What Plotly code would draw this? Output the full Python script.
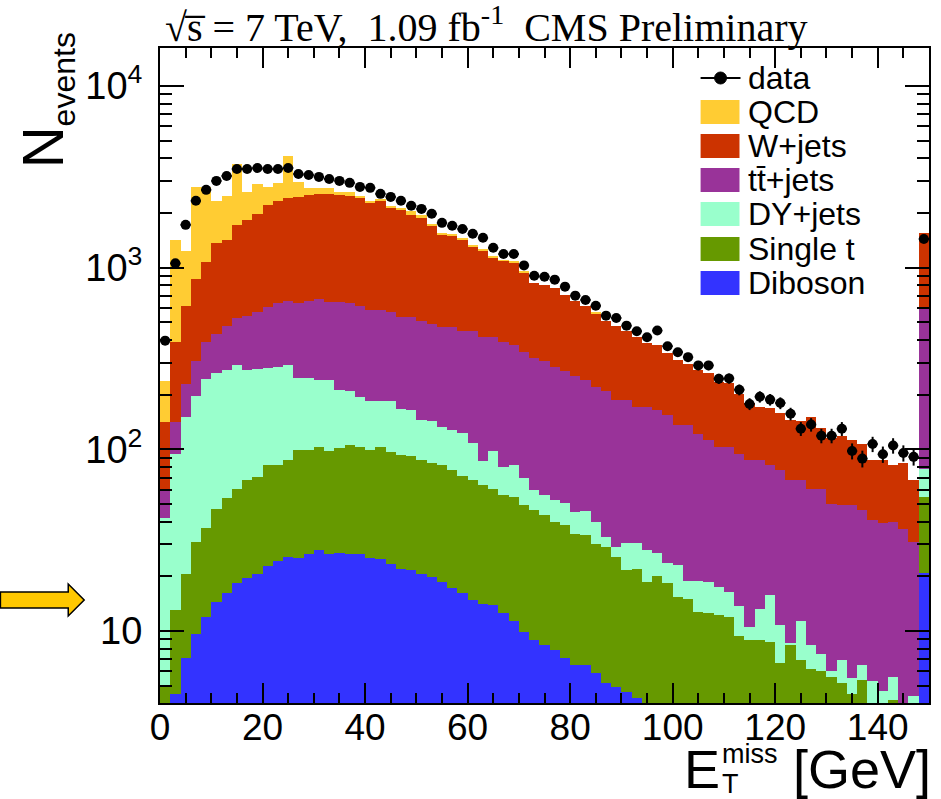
import numpy as np
import plotly.graph_objects as go

# ---------------- data (2 GeV bins, 0-150 GeV; last bin includes overflow) ----------------
bin_edges_gev = list(range(0, 152, 2))
bin_centers = [0.5 * (a + b) for a, b in zip(bin_edges_gev[:-1], bin_edges_gev[1:])]

data_counts = [397, 1057, 1722, 2335, 2683, 3006, 3200, 3497, 3497, 3540,
               3497, 3497, 3540, 3282, 3238, 3162, 3080, 3006, 2932, 2786,
               2753, 2551, 2455, 2335, 2192, 2108, 1982, 1766, 1702, 1635,
               1538, 1462, 1288, 1190, 1190, 1030, 904, 893, 860, 787,
               702, 665, 618, 545, 529, 480, 447, 414, 451, 370,
               343, 322, 290, 290, 245, 246, 213, 178, 195, 188,
               180, 157, 130, 137, 119, 119, 130, 98, 89, 107,
               94, 105, 95.5, 91, 1440]

diboson = [2, 4.5, 7.1, 9.7, 12, 14.4, 16.2, 18.4, 19.7, 20.7,
           22.7, 24.3, 25.6, 25.4, 26.5, 27.9, 26.7, 26.9, 26.7, 26.7,
           25.1, 24.8, 23.5, 22.1, 21.6, 20.6, 19.9, 18.7, 17.2, 16.2,
           14.8, 14.1, 13.9, 12.5, 11.3, 9.9, 8.9, 8.4, 7.9, 7.1,
           6.5, 6.5, 5.9, 5.2, 4.9, 4.6, 4.3, 3, 3, 3,
           3, 3, 3, 3, 3, 3, 3, 3, 3, 3,
           3, 3, 3, 3, 3, 3, 3, 3, 3, 2.5,
           2.5, 2.5, 2.5, 2.5, 20.9]

single_t = [2.9, 8.5, 13.6, 21.3, 25, 32.4, 37.8, 42.4, 47.9, 49.8,
            58.9, 57.3, 62.1, 73.5, 73, 75.1, 71.3, 74.7, 79.3, 76.3,
            73.8, 78.2, 73.1, 70.6, 70, 66.5, 64.3, 62.9, 59.5, 54.9,
            52.8, 49.3, 46.9, 43.8, 43.4, 39.3, 37.4, 35, 32, 31.1,
            27.9, 27.2, 24.4, 23.8, 20.7, 17, 17.8, 15.7, 17, 15.4,
            12.4, 12.1, 9.8, 9.5, 9.2, 9, 6.4, 5.9, 5.9, 5.7,
            3.7, 5.4, 3.9, 3.2, 3, 2.6, 2.2, 1.5, 2.4, 0.5,
            0.5, 1.7, 0.5, 0.5, 33.6]

dy_jets = [36.9, 81.6, 129.3, 165, 206, 217, 220, 229, 206, 207,
           198, 204, 202, 147, 146.5, 138.6, 143.6, 111.4, 105, 91,
           85.1, 81, 87.4, 74.8, 73.4, 57.9, 59.8, 51.4, 51.3, 51.9,
           40.4, 22.9, 37.2, 23.7, 26.9, 20.8, 13.7, 12.4, 12.6, 12.2,
           10.9, 11.9, 9.6, 4, 3.4, 8.9, 8.4, 9.4, 6.9, 5.3,
           7.7, 3.8, 6.1, 6.2, 5.2, 4.4, 4.3, 1.7, 4.4, 7.2,
           4.1, 0.15, 4.5, 2.2, 1.5, 0.4, 1.7, 1.0, 1.1, 2.3,
           1.7, 1.4, 0.5, 1.4, 23.1]

ttbar_jets = [17.8, 46.4, 80, 109, 146, 168, 206, 237, 271, 296,
              325, 351, 369, 391, 413, 431, 403, 432, 426, 424,
              401, 401, 384, 365.5, 368, 367, 347, 337, 342, 328,
              343, 327.7, 316, 309, 296.4, 273, 259, 252, 230.5, 218.6,
              209.7, 194.4, 182, 178, 157, 155.5, 140.5, 142.9, 137.1, 130.3,
              112.4, 116.6, 103.1, 93.3, 85.6, 86.6, 81, 76.4, 73.7, 65.7,
              65.9, 59, 56.2, 52.4, 53.3, 43.9, 42.3, 43.7, 39.8, 35.8,
              34.7, 34.3, 33.2, 26.6, 518.4]

w_jets = [81.4, 248, 388, 562, 680, 929, 939, 1195, 1283, 1415,
          1613, 1698, 1755, 1818, 1859, 1886, 1914, 1873, 1851, 1796,
          1701, 1750, 1587, 1567, 1422, 1377, 1211, 1061, 1030, 988,
          863, 838, 726, 703, 691, 597, 509, 499, 494, 442,
          404, 378, 337, 301, 294, 265, 247, 216, 214, 187,
          176.5, 161.5, 150, 150, 131, 128, 108.3, 92, 85, 86.4,
          81.3, 78.4, 75.4, 89.2, 71.2, 66.1, 69.8, 62.8, 60.7, 46.9,
          48.6, 42.1, 47.3, 37, 967]

qcd = [98, 1030, 612, 1919, 1717, 967, 1069, 2020, 798, 896,
       568, 597, 1707, 516, 244, 203, 203, 108, 138, 74,
       49, 45, 37, 28, 96, 66, 18, 14, 31, 17,
       23, 16, 24, 8, 11, 15, 0, 0, 0, 0,
       0, 0, 6, 0, 0, 0, 0, 0, 0, 0,
       0, 0, 0, 0, 0, 0, 0, 0, 0, 0,
       0, 0, 0, 0, 0, 0, 0, 0, 0, 0,
       0, 0, 0, 0, 0]

process_names = ["Diboson", "Single t", "DY+jets", "ttbar+jets", "W+jets", "QCD"]
process_values = [diboson, single_t, dy_jets, ttbar_jets, w_jets, qcd]
process_colors = ["#3333FF", "#669900", "#99FFCC", "#993399", "#CC3300", "#FFCC33"]

legend_labels = ["data", "QCD", "W+jets", "tt&#772;+jets",
                 "DY+jets", "Single t", "Diboson"]
legend_colors = [None, "#FFCC33", "#CC3300", "#993399", "#99FFCC", "#669900", "#3333FF"]

x_ticks = [0, 20, 40, 60, 80, 100, 120, 140]
y_ticks = [10, 100, 1000, 10000]
y_ticktext = ["10", "10<sup>2</sup>", "10<sup>3</sup>", "10<sup>4</sup>"]

# ---------------- layout geometry (pixels) ----------------
W, H = 941, 799
L, R, T, B = 160, 10, 48, 96
PW, PH = W - L - R, H - T - B


def px(xp):
    return (xp - L) / PW


def py(yp):
    return (H - B - yp) / PH


SANS = "Liberation Sans, Arial, sans-serif"
SERIF = "Liberation Serif, Times New Roman, serif"

fig = go.Figure()

for name, vals, col in zip(process_names, process_values, process_colors):
    fig.add_trace(go.Bar(
        x=bin_centers, y=vals, width=2.0, name=name,
        marker=dict(color=col, line=dict(width=0)),
        showlegend=False,
    ))

fig.add_trace(go.Scatter(
    x=bin_centers, y=data_counts, mode="markers", name="data",
    marker=dict(color="black", size=10, symbol="circle"),
    error_y=dict(type="data", array=list(np.sqrt(np.array(data_counts, dtype=float))),
                 color="black", thickness=2, width=0),
    error_x=dict(type="constant", value=1.0, color="black", thickness=2, width=0),
    showlegend=False,
))

# minor tick values for log axis
minor_y = [m * 10 ** e for e in range(0, 5) for m in range(2, 10) if 4.0 < m * 10 ** e < 16000]

fig.update_layout(
    width=W, height=H,
    margin=dict(l=L, r=R, t=T, b=B, pad=0),
    barmode="stack", bargap=0,
    paper_bgcolor="white", plot_bgcolor="white",
    showlegend=False,
    font=dict(family=SANS, color="black"),
    xaxis=dict(
        range=[0, 150], showgrid=False, zeroline=False,
        showline=True, linecolor="black", linewidth=2, mirror="allticks",
        ticks="inside", ticklen=20, tickwidth=1.5, tickcolor="black",
        tickvals=x_ticks, ticktext=[str(v) for v in x_ticks],
        tickfont=dict(family=SANS, size=37, color="black"),
        ticklabelstandoff=-9,
        minor=dict(ticks="inside", ticklen=10, tickwidth=1.5, tickcolor="black",
                   tickmode="linear", tick0=0, dtick=5, showgrid=False),
    ),
    yaxis=dict(
        type="log", range=[np.log10(4.02), np.log10(16200)],
        showgrid=False, zeroline=False,
        showline=True, linecolor="black", linewidth=2, mirror="allticks",
        ticks="inside", ticklen=24, tickwidth=1.5, tickcolor="black",
        tickvals=y_ticks, ticktext=y_ticktext,
        tickfont=dict(family=SANS, size=38, color="black"),
        ticklabelstandoff=8,
        minor=dict(ticks="inside", ticklen=12, tickwidth=1.5, tickcolor="black",
                   tickmode="array", tickvals=minor_y, showgrid=False),
    ),
)

annotations = []
shapes = []

# title
annotations.append(dict(
    x=px(163), y=py(25), xref="paper", yref="paper", xanchor="left", yanchor="middle",
    showarrow=False,
    text="&#8730;s&#773; = 7 TeV,&nbsp; 1.09 fb<sup>-1</sup>&nbsp; CMS Preliminary",
    font=dict(family=SERIF, size=40, color="black"),
))

# y-axis title (rotated)
annotations.append(dict(
    x=px(46), y=py(100), xref="paper", yref="paper", xanchor="center", yanchor="middle",
    showarrow=False, textangle=-90,
    text="N<sub><span style='font-size:32px'>events</span></sub>",
    font=dict(family=SANS, size=58, color="black"),
))

# x-axis title pieces
annotations.append(dict(x=px(683), y=py(769), xref="paper", yref="paper", xanchor="left",
                        yanchor="middle", showarrow=False, text="E",
                        font=dict(family=SANS, size=54, color="black")))
annotations.append(dict(x=px(721), y=py(754), xref="paper", yref="paper", xanchor="left",
                        yanchor="middle", showarrow=False, text="miss",
                        font=dict(family=SANS, size=27, color="black")))
annotations.append(dict(x=px(721), y=py(784), xref="paper", yref="paper", xanchor="left",
                        yanchor="middle", showarrow=False, text="T",
                        font=dict(family=SANS, size=27, color="black")))
annotations.append(dict(x=px(935), y=py(769), xref="paper", yref="paper", xanchor="right",
                        yanchor="middle", showarrow=False, text="[GeV]",
                        font=dict(family=SANS, size=54, color="black")))

# legend (manual, ROOT style)
row_y = [78, 112, 146, 180, 214, 249, 283]
for lab, col, yy in zip(legend_labels, legend_colors, row_y):
    if col is None:
        shapes.append(dict(type="line", xref="paper", yref="paper",
                           x0=px(702), x1=px(742), y0=py(yy), y1=py(yy),
                           line=dict(color="black", width=2)))
        shapes.append(dict(type="circle", xref="paper", yref="paper",
                           x0=px(716), x1=px(728), y0=py(yy + 6), y1=py(yy - 6),
                           fillcolor="black", line=dict(color="black", width=1)))
    else:
        shapes.append(dict(type="rect", xref="paper", yref="paper",
                           x0=px(702), x1=px(741), y0=py(yy + 12), y1=py(yy - 12),
                           fillcolor=col, line=dict(width=0)))
    annotations.append(dict(x=px(748), y=py(yy), xref="paper", yref="paper",
                            xanchor="left", yanchor="middle", showarrow=False,
                            text=lab, font=dict(family=SANS, size=32, color="black")))

# yellow arrow on the left
pts = [(0, 592), (68, 592), (68, 584), (84, 600), (68, 616), (68, 608), (0, 608)]
path = "M " + " L ".join(f"{px(a):.5f},{py(b):.5f}" for a, b in pts) + " Z"
shapes.append(dict(type="path", xref="paper", yref="paper", path=path,
                   fillcolor="#FFC800", line=dict(color="black", width=1.5)))

fig.update_layout(annotations=annotations, shapes=shapes)

fig.write_html("out.html")
